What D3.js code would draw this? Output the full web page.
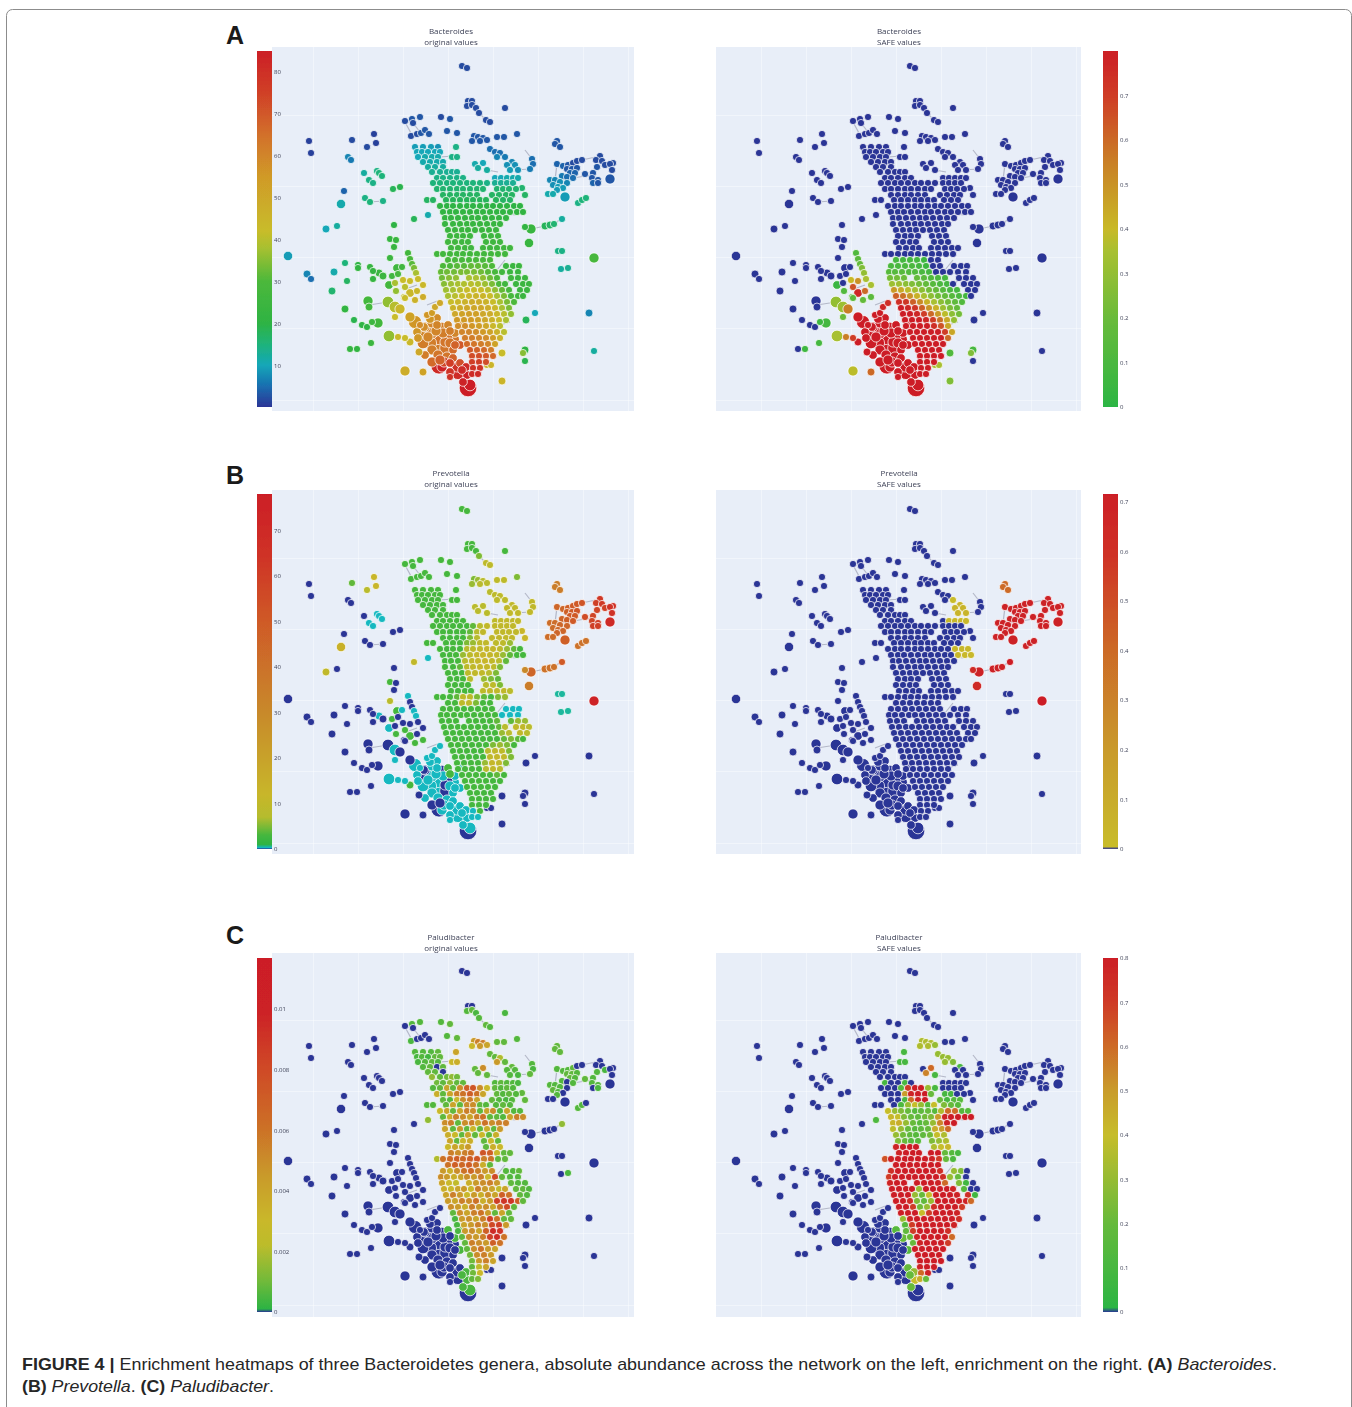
<!DOCTYPE HTML>
<html lang="en">
<head>
	<meta charset="utf-8">
	<script src="https://cdn.jsdelivr.net/npm/d3@7"></script>
	<style>
		body { margin: 0; background: #fff; }
		svg { display: block; }
	</style>
</head>
<body>
<script>

	// network layout, one entry per group of nodes. a plain number stands for the whole group
	var nodeX = [
		[462,467],
		[468,472,467,472,476,479,486,490,505],
		[405,412,413,420,441,450,447,457,411,417,421,425,429],
		[474,478,483,487,472,480,497,504,517],
		[557,555,560],
		[309,311,352,374,376,367,348,351,364,377,379,382,369,373,393,400,344,341,365,370,383],
		[490,495,500,505,497,512,515,507,518,510,475,483,478,487,532,533,530,522,525],
		[557,563,568,573,577,582,600,596,602,605,613,610,612,567,572,577,597,593,570,575,562,567,573,585,592,598,593,598,610,550,555,560,567,553,558,563,557,548,553,565,578,582,586],
		[288,307,311,326,337,394,414,428,390,396,394,390,345,358,358,334,347,332,370,373,379,383,392,373,389,368,369,345,354,362,367,372,378,389,371,350,357,398,405,410,419,405,423],
		[531,525,545,550,554,562,529,558,562,594,561,568,535,526,589,525,523,525,594,502,502,487,491],
		[408,410,412,397,402,398,414,416,403,410,418,423,405,395,417,410,404,396],
		[388,395,400,405,415,423,395,410,415,420,427,432,435,440,425,432,437,442,448,417,423,432],
		[438,447,453,423,430,438,447,453,432,438,447,453,460,439,442,450,450,457,458,450,467,463,468,470],
		[460,455,461,445,450,443,436,428,418,424,430,466,444,432,425,455,440,450,437,462],
		// core of the network, row by row
		[415,423,431,438,456],
		[417,422,428,435,440],
		[418,425,432,438,452,457],
		[423,430,437,443],
		[428,435,443],
		[432,440,447,452,457],
		[437,443,450,457,463,495,501,507,513,518],
		[433,440,447,453,460,467,473,480,487,495,501,507,513],
		[437,443,450,457,463,470,477,483,497,503,509,516],
		[443,450,457,463,470,477,492,499,506,512],
		[427,433,446,453,460,467,473,480,486,496,503,510],
		[440,447,453,460,467,473,480,487,493,500,507,514,520],
		[443,450,456,463,470,477,483,490,497,503,510,517,523],
		[445,451,458,465,472,478,485,492,499,506],
		[445,453,460,467,473,480,487,494,500],
		[448,455,462,468,475,482,489,496],
		[450,457,463,470,484,491,498],
		[448,455,462,468,486,493,500],
		[451,458,465,471,483,490,497,504,510],
		[437,443,450,457,463,470,477,484,491,498,505],
		[448,455,462,469,476,483,490],
		[443,450,457,464,471,478,485,492,506,513,519],
		[441,447,454,461,467,474,481,488,495,502,510,518],
		[442,449,456,469,476,483,490,497,511,518,525],
		[444,451,458,464,471,478,485,492,499,505,516,523,529],
		[446,453,460,467,474,481,488,495,502,509,520,527],
		[448,455,462,469,476,483,490,497,504,511,518,523],
		[451,458,465,472,479,486,493,500,507,514],
		[453,460,467,474,481,488,495,502,509],
		[455,462,469,476,483,490,497,504,511],
		[457,464,471,478,485,492,499,506],
		[458,465,472,479,486,493,500],
		[462,469,476,483,490,497,504],
		[465,472,479,486,493,500],
		[467,474,481,488,495],
		[470,477,484,491],
		[472,479,486,493],
		[472,479,486],
		[473,480],
		[472,478]
	];

	var nodeY = [
		[66,68],
		[101,101,106,105,108,113,120,122,108],
		[121,119,123,117,117,119,131,133,136,134,133,130,134],
		[136,137,138,140,141,141,137,137,134],
		[141,144,147],
		[141,153,140,134,143,147,157,160,173,171,173,176,180,183,189,187,191,204,198,202,201],
		[149,152,153,157,157,162,165,165,170,170,164,163,168,170,159,164,169,188,195],
		[164,166,165,163,161,160,156,160,161,165,163,164,170,169,169,168,167,173,173,173,176,177,178,174,178,180,183,183,179,180,180,182,183,185,187,188,190,194,194,197,203,200,198],
		[256,274,279,229,226,225,219,215,239,240,247,258,263,265,268,272,281,291,267,271,273,276,276,279,285,301,307,309,320,325,327,322,323,336,343,349,349,337,338,342,352,371,372],
		[229,227,226,225,224,219,243,251,251,258,269,268,313,320,313,350,353,361,351,353,381,365,365],
		[253,259,264,268,267,274,268,273,280,281,279,285,287,283,291,293,297,291],
		[302,307,309,298,300,297,317,317,322,325,315,313,307,303,327,323,318,328,325,332,335,333],
		[338,337,340,343,343,347,348,350,350,355,357,358,363,366,367,363,372,367,373,377,375,382,388,385],
		[345,333,325,342,331,333,331,337,338,327,319,367,362,362,355,345,360,343,325,370],
		147,152,157,162,167,172,178,183,189,195,200,206,212,218,224,230,236,242,248,254,260,266,272,278,284,290,296,302,308,314,320,326,332,338,344,350,356,362,368,374
	];

	var nodeSize = [
		3,3,3,3,3,
		[3,3,3,3,3,3,3,3,3,3,3,3,3,3,3,3,3,4.5,3,3,3],
		3,
		[3,3,3,3,3,3,3,3,3,3,3,3,3,3,3,3,3,3,3,3,3,3,3,3,3,3,3,3,5,3,3,3,3,3,3,3,3,3,3,5,3,3,3],
		[4.5,3.5,3,3.5,3,3,3,3,3,3,3,3,3,3,3,3.5,3,3.5,3,3,3.5,3.5,3,3,4,5,3.5,3.5,3,3,3,3,5,6,3,3,3,3,3,3.5,3.5,5,3.5],
		[5,3,3.5,3.5,3,3,4.5,3,3,5,3,3,3,3.5,3.5,3.5,3,3,3,3.5,3.5,3,3],
		[3,3,3,4,3,3,3,3,3,3,3,3,3,3,3,4,3,3],
		[6,6,5,3,3,3,3,5,7,3,3,3,3,3,5,5,4,6,4,4,6,6],
		[7,6,7,6,7,8,8,4,5,5,5,4,4,9,5,4,4,5,7,3,4,4,10,6],
		[4,4,3.5,5,4,5,5,5,4,4,4,4,5,5,4,4,5,5,4,4],
		3,3,3,3,3,3,3,3,3,3,3,3,3,3,3,3,3,3,3,3,3,3,3,3,3,3,3,3,3,3,3,3,3,3,3,3,3,3,3,3
	];

	// Bacteroides, original values
	var bacteroidesOriginal = [
		2,2,[2,3,2,3,2,3,3,3,2,2,3,3,3],3,3,
		[1,1,2,1,1,2,7,6,12,14,15,15,14,14,18,19,4,11,14,15,14],
		[5,5,5,6,7,7,8,8,8,9,11,10,12,12,5,5,6,16,17],
		[4,4,3,2,2,2,2,2,2,2,2,2,2,3,3,3,3,3,4,4,6,5,5,3,3,3,4,3,3,7,7,8,7,8,9,9,9,11,11,9,14,15,15],
		[9,7,5,10,12,20,18,11,22,23,23,24,15,20,21,11,17,16,22,22,24,25,26,22,27,27,27,21,19,20,20,25,27,36,24,22,21,43,42,44,50,48,52],
		[23,21,18,17,16,12,23,14,14,28,12,13,10,18,7,20,35,19,12,42,45,45,45],
		[27,29,31,26,26,28,34,38,42,42,42,44,40,38,44,44,40,36],
		[36,40,44,42,46,48,42,52,56,58,56,54,50,50,60,60,58,62,60,56,60,62],
		[64,64,64,62,62,62,64,66,62,64,64,68,72,82,84,76,80,80,82,80,84,84,85,85],
		[70,60,58,64,62,62,60,60,56,58,56,82,74,66,62,68,68,64,60,82],
		[9,9,9,8,14],10,[10,11,11,11,14,14],11,12,13,
		[14,14,14,14,14,10,10,11,11,11],
		[15,15,15,15,15,15,15,15,14,13,13,13,13],
		16,17,[17,17,18,18,18,18,18,18,18,18,17,17],
		20,21,22,23,24,25,26,26,27,29,
		[30,30,31,31,32,32,31,30,24,24,24],
		[32,33,33,34,34,34,33,31,28,26,24,24],
		[33,35,36,38,38,36,33,30,26,24,24],
		[35,37,38,39,40,39,37,34,30,26,24,24,24],
		[37,38,40,42,42,42,40,36,32,28,24,24],
		[38,40,42,44,45,45,42,38,34,28,26,24],
		[42,44,46,48,48,46,42,38,34,30],
		[46,48,50,50,50,48,44,38,34],
		[50,52,53,53,50,48,44,40,36],
		[55,55,55,53,50,46,42,38],
		[58,58,56,54,50,44,40],
		[60,60,58,55,52,46,40],
		[62,62,60,58,54,46],
		[66,64,62,60,52],
		[70,68,66,62],
		[72,72,70,66],
		[76,76,72],
		80,82
	];

	// Bacteroides, SAFE values in hundredths, 0 is not enriched
	var bacteroidesSafe = [
		0,0,0,0,0,0,0,0,
		[0,0,0,0,0,0,0,0,0,0,0,0,0,0,0,0,0,0,0,0,0,0,0,0,5,0,0,0,0,0,0,6,8,35,8,0,6,55,70,80,80,38,60],
		[0,0,0,0,0,0,0,0,0,0,0,0,0,0,0,8,25,0,0,12,25,35,35],
		[12,15,18,0,0,0,25,30,40,50,35,35,65,0,60,78,15,12],
		[30,32,55,15,18,15,20,80,80,80,80,80,78,75,80,80,80,80,80,80,80,80],
		80,80,
		0,0,0,0,0,0,0,0,0,0,0,0,0,0,0,0,0,0,0,0,
		[8,8,8,8,6,0,0],
		[10,10,10,10,8,6,0,0,0,0,0],
		[14,14,14,12,12,10,8,0,0,0,0,0],
		[22,22,20,18,15,12,10,8,0,0,0],
		[32,32,28,25,22,18,14,10,8,0,0,0,0],
		[48,44,38,34,28,22,18,14,10,8,0,0],
		[62,58,50,42,35,28,22,18,14,10,8,0],
		[75,72,62,52,42,35,28,22,16,12],
		[80,78,72,62,50,42,32,24,18],
		[80,80,78,70,60,48,38,28,22],
		[80,80,80,78,70,58,44,30],
		[80,80,80,80,75,65,45],
		[80,80,80,80,80,70,45],
		[80,80,80,80,80,60],
		80,80,80,80,80,80
	];

	// Prevotella, original values
	var prevotellaOriginal = [
		3,[3,3,3,3,3,5,9,9,3],3,[5,6,8,8,6,8,9,9,5],35,
		[0,0,4,12,12,8,0,0,0,.3,.3,.3,.3,.3,0,0,0,14,0,0,0],
		[8,9,9,9,9,10,10,10,10,10,8,8,8,8,10,10,10,12,12],
		[45,45,48,50,50,52,62,60,62,60,65,65,65,48,50,52,58,58,50,50,46,48,50,55,58,60,60,60,70,42,42,44,45,42,44,45,45,42,42,48,40,40,40],
		[0,0,0,10,0,0,10,.3,3,0,0,8,0,0,0,0,0,0,0,0,.3,0,3,0,.3,0,0,0,0,0,0,0,0,.3,0,0,0,.3,.3,3,0,0,0],
		[45,30,40,40,40,50,35,.5,.5,75,.5,.5,0,0,0,0,0,0,0,0,0,0,0],
		[.3,0,0,3,.3,0,.3,.3,0,0,0,0,3,0,0,3,0,3],
		[0,.3,0,0,3,3,.3,0,.3,.3,.3,.3,.3,.3,0,.3,.3,0,3,.3,0,.3],
		[.3,0,.3,.3,.3,.3,0,.3,.3,.3,.3,.3,.3,0,.3,.3,.3,.3,.3,.3,.3,.3,0,.3],
		[.3,.3,.3,0,3,.3,.3,.3,.3,0,.3,.3,.3,0,.3,.3,0,.3,.3,.3],
		3,3,3,3,3,3,
		[3,3,3,3,3,9,10,10,10,10],
		[3,3,3,3,3,3,4,8,10,10,10,10,10],
		[3,3,3,3,3,4,8,10,10,10,10,10],
		[3,3,3,3,5,8,10,10,10,10],
		[3,3,3,3,3,5,6,9,10,9,9,6],
		[3,3,3,3,8,9,10,11,11,9,6,4,3],
		[3,3,3,6,9,11,12,11,10,6,4,3,3],
		[3,3,3,8,10,11,12,10,8,4],
		[3,3,4,9,10,11,11,9,5],
		[3,3,3,9,10,10,8,5],
		[3,3,3,8,6,5,4],
		[3,3,3,3,8,9,5],
		[3,3,3,3,9,10,10,10,8],
		[3,3,3,4,9,9,5,4,3,5,6],
		[3,3,9,10,5,3,3],
		[3,3,3,3,3,3,3,3,.3,.3,.3],
		[3,3,3,3,3,3,3,3,3,.3,.3,.3],
		[3,3,3,3,3,3,3,4,4,6,6],
		[3,3,3,3,3,3,3,3,4,8,10,10,8],
		[3,3,3,3,3,3,3,3,6,8,10,8],
		[3,3,3,3,3,3,3,3,4,5,4,3],
		[3,3,3,3,3,3,5,6,5,3],
		[3,3,3,3,3,8,10,9,5],
		[3,3,3,3,3,10,11,10,5],
		[3,3,3,3,6,11,10,5],
		[3,3,3,3,8,10,8],
		[3,3,3,3,3,4,3],
		3,3,3,3,3,[.3,3],[.3,.3]
	];

	// Prevotella, SAFE values in hundredths
	var prevotellaSafe = [
		0,0,0,0,40,0,
		[0,0,0,1,0,5,5,5,5,5,0,0,0,0,0,0,0,0,0],
		70,0,
		[70,65,70,70,70,72,65,0,0,72,0,0,0,0,0,0,0,0,0,0,0,0,0],
		0,0,0,0,
		0,0,0,0,0,0,
		[0,0,0,0,0,0,3,3,3,3],
		0,0,0,0,
		[0,0,0,0,0,0,0,0,0,0,3,3,3],
		[0,0,0,0,0,0,0,0,0,0,3,3,3],
		0,0,0,0,0,0,0,0,0,0,0,0,0,0,0,0,0,0,0,0,0,0,0,0,0,0,0
	];

	// Paludibacter, original values in ten-thousandths
	var paludibacterOriginal = [
		0,
		[0,0,6,8,5,6,8,6,5],
		[0,6,0,6,6,8,6,8,5,0,0,0,0],
		[45,55,55,40,30,45,8,8,6],
		8,0,
		[8,8,20,8,45,8,6,6,5,6,8,50,8,8,6,5,8,8,8],
		[6,6,6,8,0,0,0,0,0,5,0,0,0,8,8,6,6,6,8,6,6,0,6,8,6,6,0,5,0,6,6,6,0,8,6,0,6,0,0,0,6,6,0],
		[0,0,0,0,0,0,0,15,0,0,0,0,0,0,0,0,0,0,0,0,0,0,0,0,0,0,0,0,0,0,0,0,0,0,0,0,0,0,0,0,0,0,0],
		[0,0,0,0,0,15,0,0,0,0,0,5,0,0,0,0,0,0,0,0,0,0,0],
		0,
		[0,0,0,0,0,0,0,0,0,0,0,0,0,0,0,0,0,0,5,0,0,0],
		[0,0,0,0,0,0,0,0,0,0,0,0,0,0,0,0,0,0,0,0,5,5,0,5],
		[5,5,5,0,0,0,0,0,0,0,0,5,0,0,0,0,0,0,0,5],
		[6,6,6,8,40],
		[5,6,4,8,8],
		[5,6,8,6,30,35],
		[6,8,0,8],
		[8,8,0],
		[15,8,10,15,10],
		[10,8,15,8,8,6,8,6,6,5],
		[6,8,40,8,50,70,75,50,30,8,6,8,6],
		[35,8,40,55,60,70,60,40,8,6,8,6],
		[8,6,30,50,55,40,8,6,5,6],
		[6,6,8,40,8,50,50,8,6,6,8,6],
		[30,40,8,40,55,50,8,40,50,6,40,6,6],
		[8,35,55,50,40,55,60,8,8,6,40,55,50],
		[50,55,8,50,55,40,60,50,55,55],
		[40,8,45,8,30,8,35,8,45],
		[35,30,8,40,8,30,8,35],
		[40,8,30,35,8,30,8],
		[30,40,35,45,8,35,30],
		[55,50,55,60,75,70,30,8,8],
		[20,60,65,70,65,70,75,55,60,8,8],
		[60,70,65,70,60,35,8],
		[45,35,50,60,65,55,45,50,6,6,8],
		[50,45,35,40,50,45,55,30,80,8,6,6],
		[40,30,25,35,45,50,55,45,8,6,6],
		[35,30,40,45,30,55,45,40,25,40,8,8,6],
		[40,55,45,30,45,35,50,40,70,60,8,6],
		[45,40,55,50,60,35,45,85,90,90,70,8],
		[50,45,35,55,45,50,40,60,80,8],
		[8,50,40,55,60,45,8,40,8],
		[5,45,50,40,55,85,60,8,8],
		[5,40,45,55,50,80,85,45],
		[5,45,50,40,70,95,90],
		[8,50,45,55,85,95,60],
		[8,55,50,45,70,60],
		[8,50,60,45,40],
		[10,50,55,45],
		[10,45,55,40],
		[8,25,40],
		[10,30],
		[8,12]
	];

	// Paludibacter, SAFE values in hundredths
	var paludibacterSafe = [
		0,0,0,
		[35,35,35,30,35,35,0,0,0],
		0,0,
		[30,30,30,25,30,10,0,0,0,0,0,60,55,10,0,0,0,0,0],
		0,
		[0,0,0,0,0,0,0,12,0,0,0,0,0,0,0,0,0,0,0,0,0,0,0,0,0,0,0,0,0,0,0,0,0,0,0,0,0,0,0,0,0,0,0],
		0,0,
		[0,0,0,0,0,0,0,0,0,0,0,0,0,0,0,0,0,0,15,0,0,0],
		[0,0,0,0,0,0,0,0,0,0,0,0,20,0,0,0,0,0,0,0,40,20,0,0],
		[15,20,15,0,0,0,0,0,0,0,0,30,0,0,0,0,0,0,0,20],
		[0,0,0,0,10],
		0,
		[0,0,0,0,10,10],
		0,0,0,
		[10,0,0,10,0,0,0,0,0,0],
		[0,0,0,15,70,80,80,30,10,0,0,0,0],
		[0,0,0,50,78,80,80,20,10,10,0,0],
		[0,0,10,60,78,80,20,10,15,15],
		[0,0,0,12,30,40,30,15,40,25,20,15],
		[40,30,25,20,15,18,20,15,35,60,60,15,15],
		[42,40,25,20,18,22,25,50,78,80,80,80,80],
		[42,45,30,20,15,20,30,55,78,80],
		[38,30,20,15,18,20,45,50,60],
		[30,22,18,15,18,22,40,35],
		[25,20,15,15,25,30,35],
		[78,80,80,80,35,40,42],
		[78,80,80,80,80,80,20,15,10],
		[65,78,80,80,80,80,80,78,70,20,12],
		80,
		[75,80,80,80,80,80,80,75,30,25,0],
		[70,80,80,80,80,80,80,80,75,30,20,0],
		[78,80,80,80,80,80,78,60,25,8,0],
		[80,80,80,80,30,80,80,80,80,78,15,0,0],
		[80,80,80,30,20,40,80,80,80,78,75,8],
		[80,80,75,25,18,30,80,80,80,80,78,60],
		[80,80,70,22,30,75,80,80,80,70],
		[80,80,80,40,70,80,80,80,78],
		[30,78,80,80,80,80,80,80,75],
		[15,70,80,80,80,80,80,78],
		[18,70,80,80,80,80,75],
		[20,78,80,80,80,80,60],
		[20,78,80,80,80,70],
		80,80,80,
		[78,80,80],
		[60,78],
		[45,20]
	];

	// edges that can still be told apart in the network (x1, y1, x2, y2)
	var edges = [
		[369,305,388,302],[531,229,545,226],[550,225,562,219],[370,202,383,201],[413,123,420,132],
		[453,156,440,157],[582,160,600,156],[515,170,530,169],[479,113,486,120],[487,170,498,172],
		[500,325,510,322],[403,290,417,285],[427,305,440,300],[573,178,592,175],[560,180,575,178],
		[495,212,515,215],[490,235,495,245],[500,290,510,280],[497,270,505,260],[405,122,412,135],
		[460,363,450,372],[455,340,460,330],[557,164,555,180],[525,150,532,159]
	];

	var genus = ["Bacteroides", "Prevotella", "Paludibacter"];
	var kinds = ["original values", "SAFE values"];
	var letters = ["A", "B", "C"];

	var panelValues = [bacteroidesOriginal, bacteroidesSafe, prevotellaOriginal, prevotellaSafe, paludibacterOriginal, paludibacterSafe];
	var valueUnit = [1, 0.01, 1, 0.01, 0.0001, 0.01];
	var scaleMax = [85, 0.8, 78, 0.715, 0.01168, 0.8];

	var tickLabels = [
		[10,20,30,40,50,60,70,80],
		[0,0.1,0.2,0.3,0.4,0.5,0.6,0.7],
		[0,10,20,30,40,50,60,70],
		[0,0.1,0.2,0.3,0.4,0.5,0.6,0.7],
		[0,0.002,0.004,0.006,0.008,0.01],
		[0,0.1,0.2,0.3,0.4,0.5,0.6,0.7,0.8]
	];

	var stopValues = [
		[0,5,10,15,20,30,38,42,55,65,75,85],
		[0,0.001,0.2,0.35,0.4,0.55,0.7,0.8],
		[0,0.3,1,3,7,12,30,50,65,78],
		[0,0.005,0.2,0.4,0.6,0.715],
		[0,0.0001,0.001,0.0022,0.003,0.0045,0.006,0.008,0.01,0.01168],
		[0,0.01,0.2,0.4,0.5,0.6,0.7,0.8]
	];
	var stopColors = [
		["#2c3596","#1a6eb0","#12a7b8","#1fb37a","#2eb344","#4cb83b","#a8c030","#c8bc2a","#d09a28","#d2702a","#d04028","#cc1f26"],
		["#2c3596","#2cb544","#6abb3a","#a8c030","#c8b928","#c97f28","#cf3c27","#cc1f26"],
		["#2c3596","#14b8c0","#2eb344","#45b73e","#b5bc2e","#c8b62a","#c8892a","#cf5a28","#cf3127","#cc1f26"],
		["#2c3596","#c8bc2a","#c99a2a","#cc6a28","#cf3027","#cc1f26"],
		["#2c3596","#2cb344","#70ba3a","#bcbc2c","#c9b82a","#c99a2a","#cc7228","#cf4a28","#cc2027","#cc1f26"],
		["#2c3596","#2cb544","#66ba3b","#c6bd2a","#c99c2a","#cd6a28","#cf3a27","#cc1f26"]
	];

	var gridX = [313,358,403,448,493,538,583,628];
	var gridY = [44,115,186,257,328,400];

	var plotTop = [47,490,953];
	var plotH = 364;
	var plotLeft = [272,716];
	var plotW = [362,365];
	var layoutLeft = [272,268];
	var layoutTop = [47,47,48];
	var barLeft = [257,1103];
	var barW = 15;
	var barTop = [51,494,958];
	var barBottom = [407,849,1312];
	var titleX = [451,899];
	var titleY = [31,473,937];
	var letterY = [44,484,944];

	var svg = d3.select("body").append("svg")
		.attr("width", 1352)
		.attr("height", 1407);

	var defs = svg.append("defs");
	defs.append("filter")
		.attr("id", "soft")
		.attr("x", "-5%").attr("y", "-5%").attr("width", "110%").attr("height", "110%")
		.append("feGaussianBlur")
		.attr("stdDeviation", 0.65);

	// frame round the figure, its bottom edge runs off the page
	svg.append("rect")
		.attr("x", 6.5).attr("y", 9.5)
		.attr("width", 1345).attr("height", 1450)
		.attr("rx", 6)
		.attr("fill", "none")
		.attr("stroke", "#8c8c8c");

	// node sizes to drawn radius
	var sizeScale = d3.scaleLinear().domain([3,10]).range([3.6,8.8]);

	function pick(v, j) {
		var out = Array.isArray(v) ? v[j] : v;
		return out === undefined ? 0 : out;
	}

	function buildNodes(k) {
		var out = [];
		nodeX.forEach(function(xs, i) {
			xs.forEach(function(x, j) {
				out.push({
					x: x,
					y: pick(nodeY[i], j),
					r: pick(nodeSize[i], j),
					v: pick(panelValues[k][i], j) * valueUnit[k]
				});
			});
		});
		// big nodes go below so the small ones stay visible
		return out.map(function(d, i) { d.i = i; return d; }).sort(function(a, b) {
			return (b.r - a.r) || (a.i - b.i);
		});
	}

	function drawPanel(row, col) {
		var k = row * 2 + col;
		var color = d3.scaleLinear().domain(stopValues[k]).range(stopColors[k]).clamp(true);

		var xScale = d3.scaleLinear()
			.domain([layoutLeft[col], layoutLeft[col] + plotW[col]])
			.range([0, plotW[col]]);
		var yScale = d3.scaleLinear()
			.domain([layoutTop[row], layoutTop[row] + plotH])
			.range([0, plotH]);

		var panel = svg.append("g").attr("filter", "url(#soft)");
		var plot = panel.append("g")
			.attr("transform", "translate(" + plotLeft[col] + "," + plotTop[row] + ")");

		plot.append("rect")
			.attr("width", plotW[col])
			.attr("height", plotH)
			.attr("fill", "#e8eef8");

		var gx = plot.append("g")
			.attr("transform", "translate(0," + plotH + ")")
			.call(d3.axisBottom(xScale).tickValues(gridX).tickSize(-plotH).tickFormat(""));
		var gy = plot.append("g")
			.call(d3.axisLeft(yScale).tickValues(gridY).tickSize(-plotW[col]).tickFormat(""));
		[gx, gy].forEach(function(a) {
			a.select(".domain").remove();
			a.selectAll("line").attr("stroke", "#fff").attr("stroke-opacity", 0.4);
		});

		plot.selectAll(".edge")
			.data(edges)
			.enter()
			.append("line")
			.attr("class", "edge")
			.attr("x1", function(d) { return xScale(d[0]); })
			.attr("y1", function(d) { return yScale(d[1]); })
			.attr("x2", function(d) { return xScale(d[2]); })
			.attr("y2", function(d) { return yScale(d[3]); })
			.attr("stroke", "#b4b8c8")
			.attr("stroke-width", 1.2);

		plot.selectAll("circle")
			.data(buildNodes(k))
			.enter()
			.append("circle")
			.attr("cx", function(d) { return xScale(d.x); })
			.attr("cy", function(d) { return yScale(d.y); })
			.attr("r", function(d) { return sizeScale(d.r); })
			.attr("fill", function(d) { return color(d.v); })
			.attr("stroke", "#fff")
			.attr("stroke-opacity", 0.8)
			.attr("stroke-width", 0.9);

		// colour bar
		var gradId = "bar" + k;
		var grad = defs.append("linearGradient")
			.attr("id", gradId)
			.attr("x1", 0).attr("y1", 1).attr("x2", 0).attr("y2", 0);
		grad.selectAll("stop")
			.data(stopValues[k])
			.enter()
			.append("stop")
			.attr("offset", function(d) { return d / scaleMax[k]; })
			.attr("stop-color", function(d, i) { return stopColors[k][i]; });

		panel.append("rect")
			.attr("x", barLeft[col])
			.attr("y", barTop[row])
			.attr("width", barW)
			.attr("height", barBottom[row] - barTop[row])
			.attr("fill", "url(#" + gradId + ")");

		var barScale = d3.scaleLinear().domain([0, scaleMax[k]]).range([barBottom[row], barTop[row]]);
		var barAxis = panel.append("g")
			.attr("transform", "translate(" + (barLeft[col] + barW) + ",0)")
			.call(d3.axisRight(barScale).tickValues(tickLabels[k]).tickSize(0).tickPadding(2).tickFormat(function(d) { return String(d); }));
		barAxis.select(".domain").remove();
		barAxis.selectAll("text")
			.attr("font-family", "Open Sans")
			.attr("font-size", 6)
			.attr("fill", "#3f4358");

		// two line subplot title
		var title = panel.append("g")
			.attr("font-family", "Open Sans")
			.attr("font-size", 8)
			.attr("fill", "#3f4358")
			.attr("text-anchor", "middle");
		title.append("text").attr("x", titleX[col]).attr("y", titleY[row] + 2.5).text(genus[row]);
		title.append("text").attr("x", titleX[col]).attr("y", titleY[row] + 13.5).text(kinds[col]);
	}

	d3.range(3).forEach(function(row) {
		svg.append("text")
			.attr("x", 226)
			.attr("y", letterY[row])
			.attr("font-family", "Liberation Sans")
			.attr("font-weight", "bold")
			.attr("font-size", 25)
			.attr("fill", "#1a1a1a")
			.text(letters[row]);
		drawPanel(row, 0);
		drawPanel(row, 1);
	});

	// caption
	var captionLines = [
		[["FIGURE 4 | ", "bold", "normal"],
		 ["Enrichment heatmaps of three Bacteroidetes genera, absolute abundance across the network on the left, enrichment on the right. ", "normal", "normal"],
		 ["(A) ", "bold", "normal"], ["Bacteroides", "normal", "italic"], [".", "normal", "normal"]],
		[["(B) ", "bold", "normal"], ["Prevotella", "normal", "italic"], [". ", "normal", "normal"],
		 ["(C) ", "bold", "normal"], ["Paludibacter", "normal", "italic"], [".", "normal", "normal"]]
	];
	var captionY = [1370, 1392];
	var captionW = [1255, 252];

	captionLines.forEach(function(parts, i) {
		var line = svg.append("text")
			.attr("x", 22)
			.attr("y", captionY[i])
			.attr("font-family", "Liberation Sans")
			.attr("font-size", 17)
			.attr("fill", "#262626")
			.attr("textLength", captionW[i])
			.attr("lengthAdjust", "spacingAndGlyphs");
		parts.forEach(function(p) {
			line.append("tspan")
				.attr("font-weight", p[1])
				.attr("font-style", p[2])
				.text(p[0]);
		});
	});

</script>
</body>
</html>
